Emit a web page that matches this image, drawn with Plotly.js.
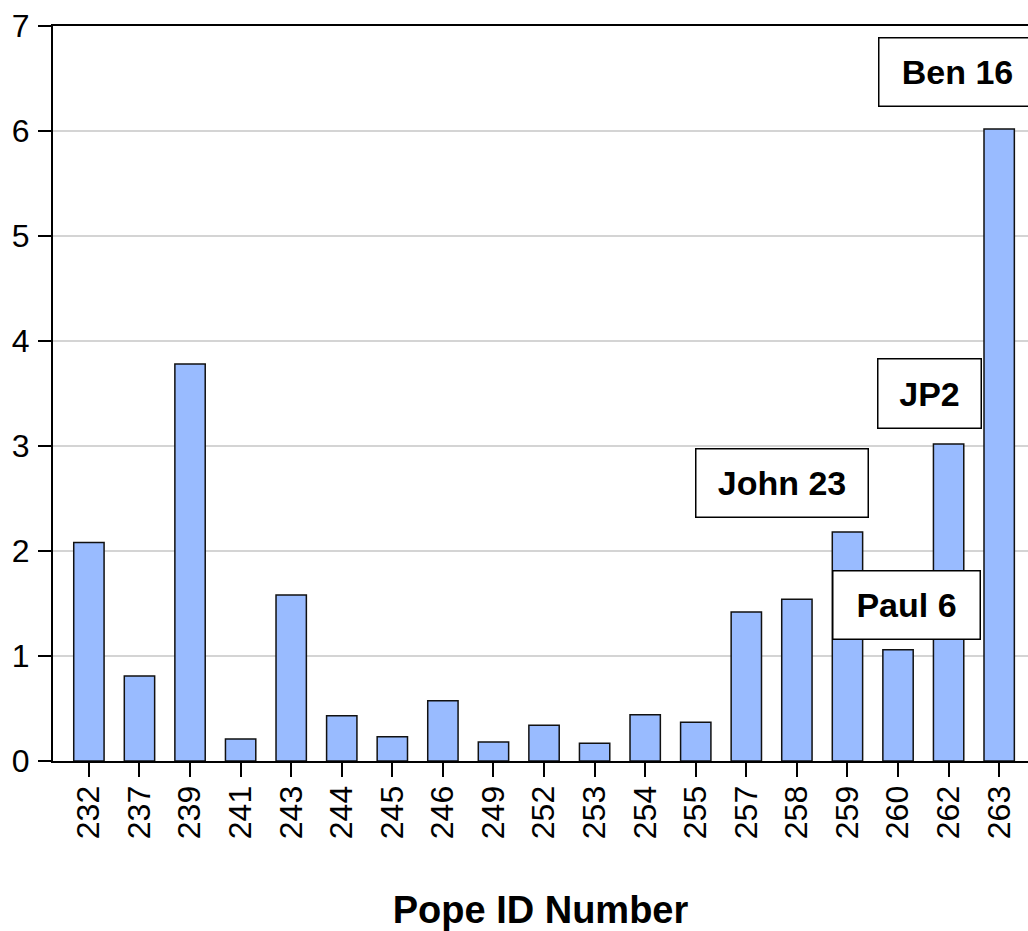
<!DOCTYPE html>
<html>
<head>
<meta charset="utf-8">
<script src="https://cdn.plot.ly/plotly-3.0.1.min.js"></script>
<style>html,body{margin:0;padding:0;background:#fff;}#chart{width:1028px;height:931px;}</style>
</head>
<body>
<div id="chart"></div>
<script>
const popeIds = ['232','237','239','241','243','244','245','246','249','252','253','254','255','257','258','259','260','262','263'];
const values = [2.08, 0.81, 3.78, 0.21, 1.58, 0.43, 0.23, 0.575, 0.18, 0.34, 0.17, 0.44, 0.37, 1.42, 1.54, 2.18, 1.06, 3.02, 6.02];
const labelTexts = ['Ben 16', 'JP2', 'John 23', 'Paul 6'];

const FONT = '"Liberation Sans", Arial, sans-serif';
const boxes = [
  {x: 0.9277, y: 0.9377, w: 158, h: 69},
  {x: 0.8985, y: 0.5003, w: 104, h: 70},
  {x: 0.7472, y: 0.3785, w: 173, h: 69},
  {x: 0.8749, y: 0.2125, w: 148, h: 69}
];
const annotations = labelTexts.map((t, i) => ({
  xref: 'paper', yref: 'paper', x: boxes[i].x, y: boxes[i].y,
  xanchor: 'center', yanchor: 'middle',
  text: '<b>' + t + '</b>', showarrow: false,
  width: boxes[i].w - 4, height: boxes[i].h - 4, borderpad: 1,
  bordercolor: '#000', borderwidth: 1.5, bgcolor: '#fff',
  font: {family: FONT, size: 34, color: '#000'}
}));

const trace = {
  type: 'bar', x: popeIds, y: values, width: 0.6,
  marker: {color: '#99bbff', line: {color: '#111', width: 1.5}},
  hoverinfo: 'x+y'
};

const layout = {
  width: 1028, height: 931,
  margin: {l: 53, r: 0, t: 26, b: 170},
  paper_bgcolor: '#fff', plot_bgcolor: '#fff',
  showlegend: false,
  font: {family: FONT, color: '#000'},
  xaxis: {
    type: 'category', range: [-0.71, 18.57],
    showline: true, linecolor: '#000', linewidth: 2, mirror: true,
    ticks: 'outside', ticklen: 14, tickwidth: 2, tickcolor: '#000',
    tickangle: -90, tickfont: {family: FONT, size: 32, color: '#000'},
    ticklabelstandoff: -4,
    showgrid: false, automargin: false,
    title: {text: '<b>Pope ID Number</b>', font: {family: FONT, size: 38, color: '#000'}, standoff: 61}
  },
  yaxis: {
    range: [0, 7], dtick: 1, tick0: 0,
    showline: true, linecolor: '#000', linewidth: 2,
    ticks: 'outside', ticklen: 13, tickwidth: 1.5, tickcolor: '#000',
    tickfont: {family: FONT, size: 32, color: '#000'},
    ticklabelstandoff: 2,
    showgrid: true, gridcolor: '#d4d4d4', gridwidth: 1.5,
    zeroline: false, automargin: false, fixedrange: true
  },
  annotations: annotations
};

Plotly.newPlot('chart', [trace], layout, {displayModeBar: false, staticPlot: true});
</script>
</body>
</html>
